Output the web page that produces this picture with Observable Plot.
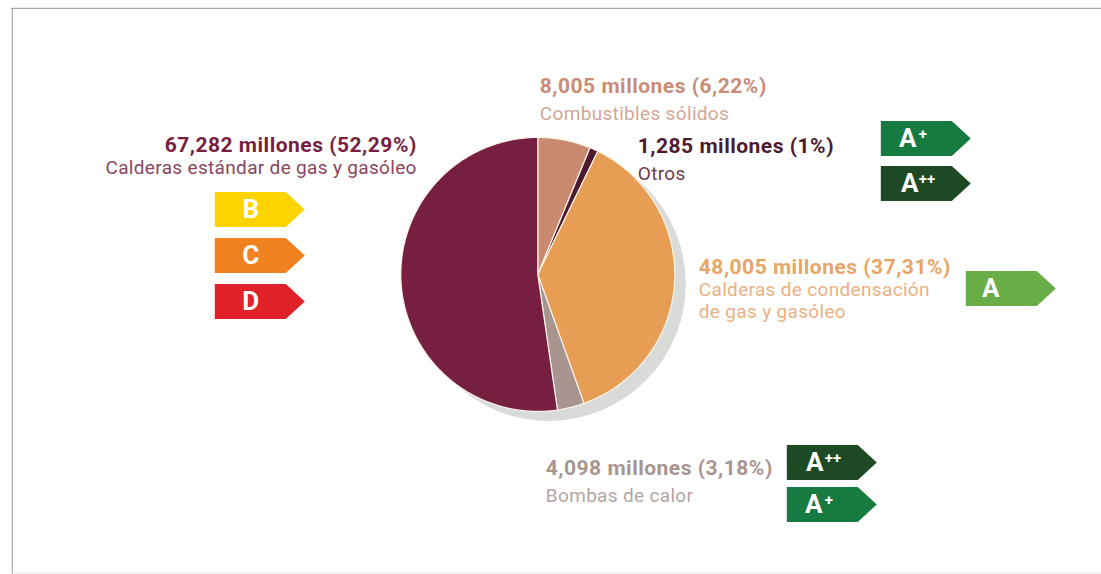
<!DOCTYPE html>
<html lang="es">
<head>
<meta charset="utf-8">
<style>
html,body{margin:0;padding:0;background:#fff;overflow:hidden}
svg{display:block}
svg g[font-size="21"]{letter-spacing:.5px}
svg g[font-size="19"]{letter-spacing:.33px}
</style>
<script src="https://cdn.jsdelivr.net/npm/d3@7"></script>
<script src="https://cdn.jsdelivr.net/npm/@observablehq/plot@0.6"></script>
</head>
<body>
<script>
// --- data ---
const categories = ["Combustibles sólidos", "Otros", "Calderas de condensación de gas y gasóleo", "Bombas de calor", "Calderas estándar de gas y gasóleo"];
const shares = [6.22, 1, 37.31, 3.18, 52.29];
const sliceColors = ["#c98a70", "#4d1a30", "#e89d55", "#a99590", "#761f40"];

const headlineTexts = ["8,005 millones (6,22%)", "1,285 millones (1%)", "48,005 millones (37,31%)", "4,098 millones (3,18%)", "67,282 millones (52,29%)"];
const headlineColors = ["#c98d77", "#4d1a30", "#e8a566", "#a99590", "#761f40"];
const headlineX = [540, 638, 699, 546, 417];
const headlineY = [93, 153, 274, 475, 152];
const headlineAnchor = ["start", "start", "start", "start", "end"];

const noteLines = ["Combustibles sólidos", "Otros", "Calderas de condensación", "de gas y gasóleo", "Bombas de calor", "Calderas estándar de gas y gasóleo"];
const noteColors = ["#d2a797", "#6a3c4e", "#eab183", "#eab183", "#b5a5a1", "#8a4560"];
const noteX = [540, 638, 699, 699, 546, 417];
const noteY = [120, 180, 296, 318, 502, 174];
const noteAnchor = ["start", "start", "start", "start", "start", "end"];

const badgeLetters = ["B", "C", "D", "A", "A", "A", "A", "A"];
const badgeMarks = ["", "", "", "+", "++", "", "++", "+"];
const badgeColors = ["#fdd400", "#f08020", "#e0212a", "#177a41", "#1d4a25", "#68ad45", "#1d4a25", "#177a41"];
const badgeLeft = [215, 215, 215, 881, 881, 966, 787, 787];
const badgeTop = [192, 238, 284, 121, 166, 271, 445, 487];
const badgeLetterInset = [36, 36, 36, 27, 29, 25, 28, 27];
const badgeW = 90, badgeH = 35, badgeTip = 19;

// --- pie geometry, derived from the shares ---
const pieCenter = [538, 274.5], pieRadius = 137, shadowOffset = [11, 9.5];
const arcs = d3.pie().sort(null).value(d => d)(shares);
const polar = (a, r = pieRadius) => ({x: pieCenter[0] + r * Math.sin(a), y: pieCenter[1] - r * Math.cos(a)});
const slicePath = (arc) => {
  const n = Math.max(4, Math.ceil((arc.endAngle - arc.startAngle) * 60));
  const rim = d3.range(n + 1).map(i => polar(arc.startAngle + (arc.endAngle - arc.startAngle) * i / n));
  return [polar(0, 0), ...rim, polar(0, 0)];
};
const badgePath = (l, t) => [
  {x: l, y: t}, {x: l + badgeW - badgeTip, y: t},
  {x: l + badgeW, y: t + badgeH / 2},
  {x: l + badgeW - badgeTip, y: t + badgeH}, {x: l, y: t + badgeH}, {x: l, y: t}
];

const font = "Roboto, sans-serif";
const labelMarks = (xs, ys, texts, colors, anchors, size, weight) =>
  ["start", "end"].map(anchor => Plot.text(d3.range(texts.length).filter(i => anchors[i] === anchor), {
    x: i => xs[i], y: i => ys[i], text: i => texts[i], fill: i => colors[i],
    textAnchor: anchor, lineAnchor: "bottom", fontSize: size, fontWeight: weight, fontFamily: font
  }));

const chart = Plot.plot({
  width: 1101, height: 574,
  margin: 0,
  color: {type: "identity"},
  style: {background: "#fff", fontFamily: font},
  x: {domain: [0, 1101], range: [-0.7, 1100.3], axis: null},
  y: {domain: [0, 574], range: [-0.6, 573.4], axis: null},
  marks: [
    // frame
    Plot.ruleX([12.5], {y1: 8.5, y2: 575, stroke: "#a8a8a8", strokeWidth: 1.2}),
    Plot.ruleY([8.5], {x1: 12, x2: 1102, stroke: "#a8a8a8", strokeWidth: 1.2}),
    Plot.ruleY([573], {x1: 12, x2: 1102, stroke: "#e6e6e6", strokeWidth: 1}),
    // shadow
    Plot.dot([0], {x: () => pieCenter[0] + shadowOffset[0], y: () => pieCenter[1] + shadowOffset[1], r: pieRadius, fill: "#d8dbd8", stroke: "none"}),
    // slices
    ...arcs.map((arc, i) => Plot.line(slicePath(arc), {x: "x", y: "y", fill: sliceColors[i], stroke: "#fdf3e6", strokeWidth: 1.2, strokeLinejoin: "round", title: () => categories[i]})),
    // badges
    ...badgeLeft.map((l, i) => Plot.line(badgePath(l, badgeTop[i]), {x: "x", y: "y", fill: badgeColors[i], stroke: "none"})),
    Plot.text(d3.range(badgeLetters.length), {
      x: i => badgeLeft[i] + badgeLetterInset[i],
      y: i => badgeTop[i] + 18,
      text: i => badgeLetters[i],
      fill: "#fff", fontSize: 26, fontWeight: 700, fontFamily: font, textAnchor: "middle", lineAnchor: "middle"
    }),
    Plot.text(d3.range(badgeLetters.length).filter(i => badgeMarks[i]), {
      x: i => badgeLeft[i] + 38,
      y: i => badgeTop[i] + 13,
      text: i => badgeMarks[i],
      fill: "#fff", fontSize: 15, fontWeight: 700, fontFamily: font, textAnchor: "start", lineAnchor: "middle"
    }),
    // labels
    ...labelMarks(headlineX, headlineY, headlineTexts, headlineColors, headlineAnchor, 21, 700),
    ...labelMarks(noteX, noteY, noteLines, noteColors, noteAnchor, 19, 400)
  ]
});
document.body.append(chart);
</script>
</body>
</html>
